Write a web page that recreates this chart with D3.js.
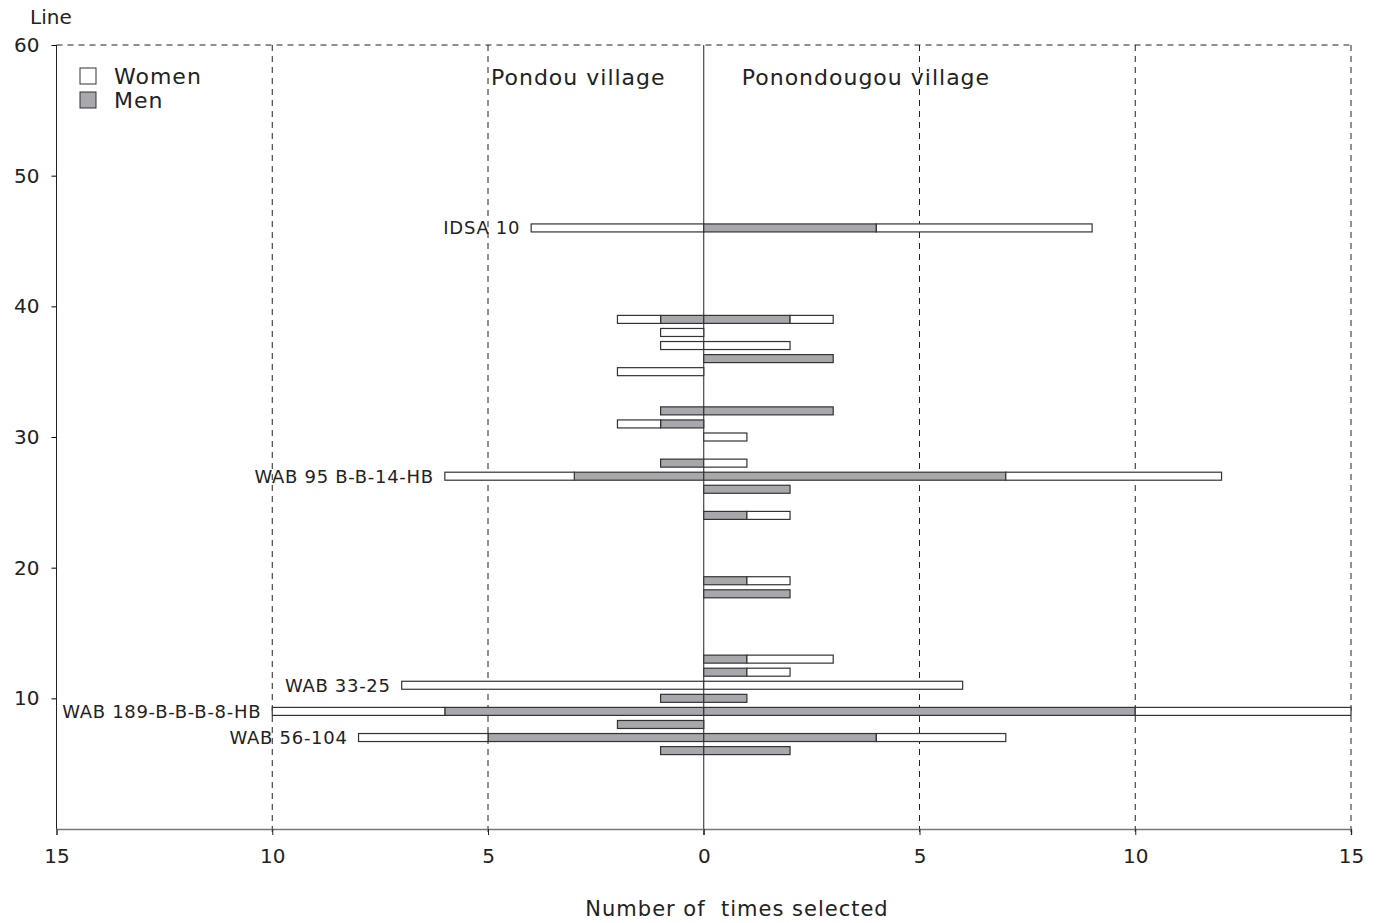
<!DOCTYPE html>
<html>
<head>
<meta charset="utf-8">
<script src="https://cdn.jsdelivr.net/npm/d3@7"></script>
<style>
  body { margin: 0; background: #fff; }
  text { font-family: "DejaVu Sans", sans-serif; fill: #222; }
</style>
</head>
<body>
<script>
// line number of each entry
let lines = [46, 39, 38, 37, 36, 35, 32, 31, 30, 28, 27, 26, 24, 19, 18, 13, 12, 11, 10, 9, 8, 7, 6]
// Pondou village (drawn to the left)
let pondouMen   = [0, 1, 0, 0, 0, 0, 1, 1, 0, 1, 3, 0, 0, 0, 0, 0, 0, 0, 1, 6, 2, 5, 1]
let pondouWomen = [4, 1, 1, 1, 0, 2, 0, 1, 0, 0, 3, 0, 0, 0, 0, 0, 0, 7, 0, 4, 0, 3, 0]
// Ponondougou village (drawn to the right)
let ponoMen   = [4, 2, 0, 0, 3, 0, 3, 0, 0, 0, 7, 2, 1, 1, 2, 1, 1, 0, 1, 10, 0, 4, 2]
let ponoWomen = [5, 1, 0, 2, 0, 0, 0, 0, 1, 1, 5, 0, 1, 1, 0, 2, 1, 6, 0, 5, 0, 3, 0]
let names = ['IDSA 10', '', '', '', '', '', '', '', '', '', 'WAB 95 B-B-14-HB', '', '', '', '', '',
  '', 'WAB 33-25', '', 'WAB 189-B-B-B-8-HB', '', 'WAB 56-104', '']

let xTicks = [-15, -10, -5, 0, 5, 10, 15]
let yTicks = [10, 20, 30, 40, 50, 60]

let rows = lines.map((l, i) => ({
  line: l, pm: pondouMen[i], pw: pondouWomen[i], nm: ponoMen[i], nw: ponoWomen[i], name: names[i]
}))

let svg = d3.select('body')
  .append('svg')
  .attr('width', 1378)
  .attr('height', 923)

let x = d3.scaleLinear().domain([-15, 15]).range([56.5, 1351])
let y = d3.scaleLinear().domain([0, 60]).range([829, 45])

const menFill = '#a7a8ab'
const edge = '#333'

// dashed grid
svg.append('g')
  .selectAll('line')
  .data([-10, -5, 5, 10, 15])
  .join('line')
  .attr('x1', d => x(d)).attr('x2', d => x(d))
  .attr('y1', y(60)).attr('y2', y(0) + 6)
  .attr('stroke', '#222')
  .attr('stroke-dasharray', '6,5')

svg.append('line')
  .attr('x1', x(-15)).attr('x2', x(15))
  .attr('y1', y(60)).attr('y2', y(60))
  .attr('stroke', '#222')
  .attr('stroke-dasharray', '6,5')

// zero line
svg.append('line')
  .attr('x1', x(0)).attr('x2', x(0))
  .attr('y1', y(60)).attr('y2', y(0) + 6)
  .attr('stroke', '#222')

// bars: men from zero outward, women stacked beyond
let bh = 8
let segs = []
rows.forEach(r => {
  segs.push({ line: r.line, a: -r.pm, b: 0, fill: menFill })
  segs.push({ line: r.line, a: -(r.pm + r.pw), b: -r.pm, fill: '#fff' })
  segs.push({ line: r.line, a: 0, b: r.nm, fill: menFill })
  segs.push({ line: r.line, a: r.nm, b: r.nm + r.nw, fill: '#fff' })
})

svg.append('g')
  .selectAll('rect')
  .data(segs.filter(s => s.b > s.a))
  .join('rect')
  .attr('x', d => x(d.a))
  .attr('width', d => x(d.b) - x(d.a))
  .attr('y', d => y(d.line) - bh / 2)
  .attr('height', bh)
  .attr('fill', d => d.fill)
  .attr('stroke', edge)
  .attr('stroke-width', 1.2)

// variety names
svg.append('g')
  .selectAll('text')
  .data(rows.filter(r => r.name))
  .join('text')
  .attr('x', d => x(-(d.pm + d.pw)) - 11)
  .attr('y', d => y(d.line))
  .attr('dy', '0.35em')
  .attr('text-anchor', 'end')
  .attr('font-size', 18)
  .attr('letter-spacing', 0.7)
  .text(d => d.name)

// y axis
let yAxis = svg.append('g')
  .attr('transform', `translate(${x(-15)},0)`)
  .call(d3.axisLeft(y).tickValues(yTicks).tickSize(5).tickPadding(12))
yAxis.select('.domain').attr('d', `M0,${y(60)}V${y(0)}`).attr('stroke', '#222')
yAxis.selectAll('text').attr('font-size', 20).attr('font-family', '"DejaVu Sans", sans-serif').attr('fill', '#222')

// x axis
let xAxis = svg.append('g')
  .attr('transform', `translate(0,${y(0)})`)
  .call(d3.axisBottom(x).tickValues(xTicks).tickSize(6).tickPadding(14).tickFormat(d => Math.abs(d)))
xAxis.select('.domain').attr('stroke', '#777').attr('stroke-width', 1.5)
xAxis.selectAll('line').attr('stroke', '#222')
xAxis.selectAll('text').attr('font-size', 20).attr('font-family', '"DejaVu Sans", sans-serif').attr('fill', '#222')

// titles
svg.append('text').attr('x', 30).attr('y', 24).attr('font-size', 20).text('Line')
svg.append('text').attr('x', 737).attr('y', 916).attr('text-anchor', 'middle')
  .attr('font-size', 21).attr('letter-spacing', 1).attr('xml:space', 'preserve').text('Number of  times selected')
svg.append('text').attr('x', x(-5) + 3).attr('y', 85).attr('font-size', 22).attr('letter-spacing', 1).text('Pondou village')
svg.append('text').attr('x', x(0) + 38).attr('y', 85).attr('font-size', 22).attr('letter-spacing', 1).text('Ponondougou village')

// legend
let legend = svg.append('g').attr('transform', 'translate(80,68)')
legend.selectAll('rect')
  .data([{ k: 'Women', f: '#fff' }, { k: 'Men', f: menFill }])
  .join('rect')
  .attr('x', 0).attr('y', (d, i) => i * 24)
  .attr('width', 16).attr('height', 16)
  .attr('fill', d => d.f).attr('stroke', edge)
legend.selectAll('text')
  .data(['Women', 'Men'])
  .join('text')
  .attr('x', 34).attr('y', (d, i) => i * 24 + 8)
  .attr('dy', '0.35em')
  .attr('font-size', 22)
  .attr('letter-spacing', 1)
  .text(d => d)
</script>
</body>
</html>
